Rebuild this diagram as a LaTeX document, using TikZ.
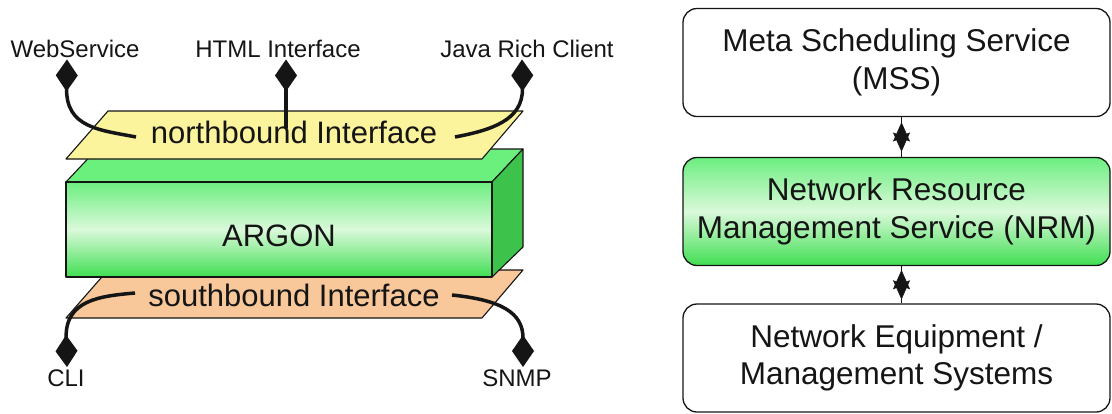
\documentclass[tikz,border=0pt]{standalone}
\usepackage{fontspec}
\setmainfont{Liberation Sans}
\usetikzlibrary{arrows.meta,calc}
\definecolor{ylw}{HTML}{FCF49C}
\definecolor{org}{HTML}{F8C89A}
\definecolor{gtop}{HTML}{6BEF7D}
\definecolor{gside}{HTML}{3DC24C}
\definecolor{gA}{HTML}{6CEE80}
\definecolor{gB}{HTML}{DAF9DA}
\definecolor{gC}{HTML}{40DE52}
\definecolor{ink}{HTML}{151515}
\begin{document}
\begin{tikzpicture}[x=1pt,y=-1pt,
  lbl/.style={font=\fontsize{24}{27}\selectfont, inner sep=2pt, text=ink},
  ifc/.style={font=\fontsize{31}{34}\selectfont, inner sep=0pt, text=ink, anchor=base},
  conn/.style={line width=3.5pt, draw=ink, {Diamond[length=32pt,width=22pt]}-},
  face/.style={draw=ink, line width=1.1pt, line join=round},
  rbox/.style={draw=ink, line width=1.3pt, rounded corners=14pt, minimum width=427pt,
    minimum height=108pt, align=center, inner sep=0pt, text=ink,
    font=\fontsize{31.5}{37.5}\selectfont},
  thinlink/.style={draw=ink, line width=1.2pt},
  starfill/.style={fill=ink, draw=ink, line width=0.6pt, line join=miter}
]
\useasboundingbox (0,0) rectangle (1112,413);

% ---------- left: ARGON stack ----------
% southbound layer
\filldraw[face, fill=org] (108,270) -- (523,270) -- (482,318) -- (66,318) -- cycle;
% ARGON box
\filldraw[face, fill=gtop] (66,182) -- (97,149) -- (523,149) -- (492,182) -- cycle;
\filldraw[face, fill=gside] (492,182) -- (523,149) -- (523,247) -- (492,277) -- cycle;
\shade[top color=gA, bottom color=gC, middle color=gB] (66,182) rectangle (492,277);
\draw[face] (66,182) rectangle (492,277);
% northbound layer
\filldraw[face, fill=ylw] (108,111) -- (523,111) -- (482,159) -- (66,159) -- cycle;

\node[ifc] (nb) at (294,143) {northbound Interface};
\node[ifc] (sb) at (294,306) {southbound Interface};
\node[font=\fontsize{31}{34}\selectfont, text=ink, inner sep=0pt] (argon) at (279,236) {ARGON};

% labels
\node[lbl, anchor=base] (ws) at (75,57) {WebService};
\node[lbl, anchor=base] (hi) at (278,57) {HTML Interface};
\node[lbl, anchor=base] (jr) at (527,57) {Java Rich Client};
\node[lbl, anchor=base] (cli) at (66,386) {CLI};
\node[lbl, anchor=base] (snmp) at (517,386) {SNMP};

\coordinate (wsE) at (136,137);
\coordinate (hiE) at (286,128);
\coordinate (jrE) at (455,137);
\coordinate (cliE) at (135,293);
\coordinate (snmpE) at (452,295);

\draw[conn] ([xshift=-8pt]ws.south) .. controls (66,128) and (100,130) .. (wsE);
\draw[conn] ([xshift=8pt]hi.south) -- (hiE);
\draw[conn] ([xshift=-5pt]jr.south) .. controls (523,120) and (492,130) .. (jrE);
\draw[conn] ([xshift=1pt]cli.north) .. controls (65,300) and (100,296) .. (cliE);
\draw[conn] ([xshift=6pt]snmp.north) .. controls (523,312) and (500,300) .. (snmpE);

% ---------- right: service stack ----------
\node[rbox] (mss) at (896.5,62.5) {Meta Scheduling Service\\(MSS)};
\node[rbox, top color=gA, bottom color=gC, middle color=gB] (nrm) at (896.5,211.5)
  {Network Resource\\Management Service (NRM)};
\node[rbox] (neq) at (896.5,358) {Network Equipment /\\Management Systems};

\draw[thinlink] ([xshift=5pt]mss.south) -- ([xshift=5pt]nrm.north);
\draw[thinlink] ([xshift=5pt]nrm.south) -- ([xshift=5pt]neq.north);
\coordinate (s1) at ($([xshift=5pt]mss.south)!0.5!([xshift=5pt]nrm.north)$);
\coordinate (s2) at ($([xshift=5pt]nrm.south)!0.5!([xshift=5pt]neq.north)$);
\foreach \s in {s1,s2}{
  \filldraw[starfill] (\s) ++(0,-14) -- ++(8,18) -- ++(-8,-3) -- ++(-8,3) -- cycle;
  \filldraw[starfill] (\s) ++(0,14) -- ++(8,-18) -- ++(-8,3) -- ++(-8,-3) -- cycle;
}
\end{tikzpicture}
\end{document}
